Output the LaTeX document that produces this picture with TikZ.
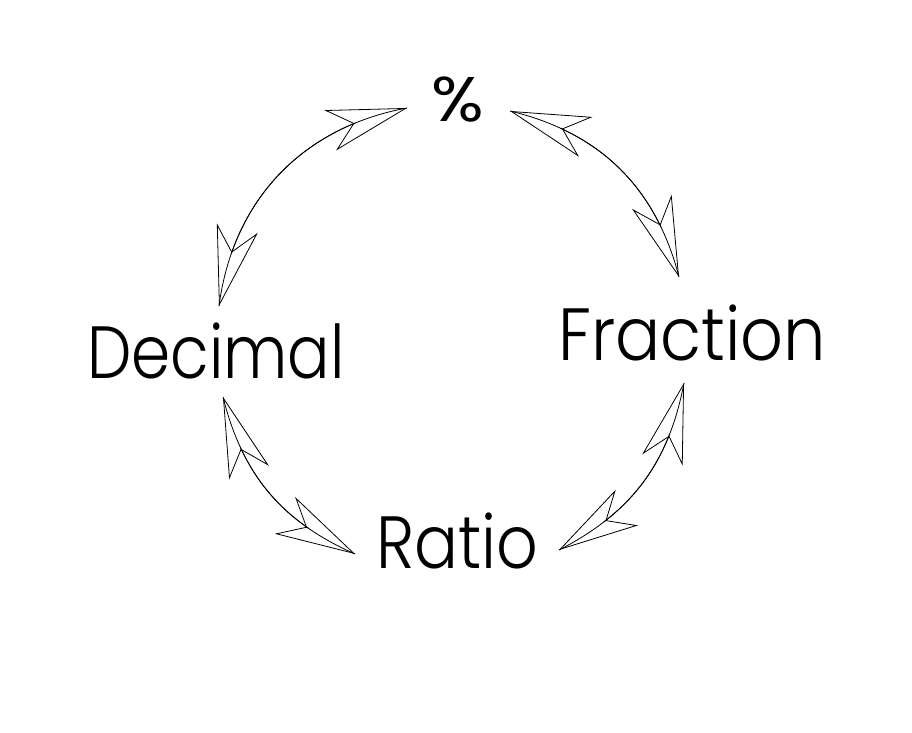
\documentclass[tikz,border=0pt]{standalone}
\usepackage{fontspec}
\setmainfont{Poppins Light}
\newfontfamily\popreg{Poppins}
\usetikzlibrary{arrows.meta,bending}
\begin{document}
\begin{tikzpicture}[x=1pt,y=1pt,
  lbl/.style={inner sep=0pt,anchor=base west,font=\fontsize{74}{76}\selectfont},
  arc/.style={line width=0.8pt},
  arr/.style={line width=0.8pt,{Stealth[length=80pt,width=42pt,inset=24pt,open,flex]}-{Stealth[length=80pt,width=42pt,inset=24pt,open,flex]}}]
\useasboundingbox (0,0) rectangle (912,732);
\node[lbl] (dec) at (87,354) {\scalebox{0.85}[1]{Decimal}};
\node[lbl] (fra) at (558,372) {\scalebox{0.905}[1]{Fraction}};
\node[lbl] (rat) at (376,164) {\scalebox{0.88}[1]{Ratio}};
\node[inner sep=0pt,anchor=base west,font=\popreg\fontsize{63}{65}\selectfont] (pct) at (431,610) {\scalebox{1.1}[1]{\%}};
\coordinate (t1a) at (219,426);
\coordinate (t1b) at (407,624);
\coordinate (t2a) at (510,621);
\coordinate (t2b) at (679,455);
\coordinate (t3a) at (684,349);
\coordinate (t3b) at (559,182);
\coordinate (t4a) at (355,178);
\coordinate (t4b) at (223,335);
\draw[arc] (t1a) to[bend left=36] (t1b);
\draw[arr] (t1a) to[bend left=36] (t1b);
\draw[arc] (t2a) to[bend left=31] (t2b);
\draw[arr] (t2a) to[bend left=31] (t2b);
\draw[arc] (t3a) to[bend left=26] (t3b);
\draw[arr] (t3a) to[bend left=26] (t3b);
\draw[arc] (t4a) to[bend left=26] (t4b);
\draw[arr] (t4a) to[bend left=26] (t4b);
\end{tikzpicture}
\end{document}
